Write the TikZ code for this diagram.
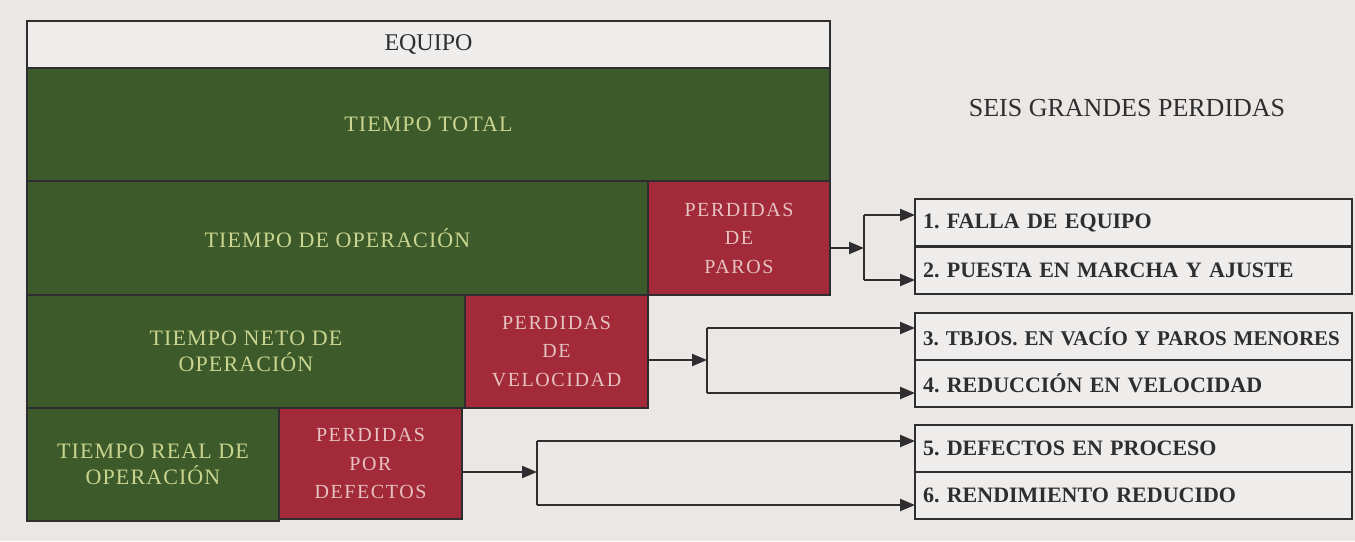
\documentclass[tikz,border=0pt]{standalone}
\usepackage{fontspec}
\setmainfont{Liberation Serif}
\newfontfamily\spaced[LetterSpace=5]{Liberation Serif}
\newfontfamily\spacedr[LetterSpace=8]{Liberation Serif}
\usetikzlibrary{arrows.meta}
\definecolor{bg}{HTML}{EAE7E5}
\definecolor{boxfill}{HTML}{EFEDEB}
\definecolor{grn}{HTML}{3D5A2B}
\definecolor{grntext}{HTML}{C9D58E}
\definecolor{rd}{HTML}{A32A38}
\definecolor{rdtext}{HTML}{E6C2C2}
\definecolor{ln}{HTML}{2E2E30}
\frenchspacing
\begin{document}
\begin{tikzpicture}[x=1pt,y=-1pt,
  frame/.style={draw=ln,line width=2.6pt,anchor=north west,inner sep=0pt,outer sep=0pt},
  greenbox/.style={frame,fill=grn,text=grntext,align=center,font=\spaced\fontsize{22}{26}\selectfont},
  redbox/.style={frame,fill=rd,text=rdtext,align=center,font=\spacedr\fontsize{20}{28.5}\selectfont},
  lossbox/.style={frame,fill=boxfill,text=ln,minimum width=437pt,minimum height=47pt,text width=421pt,align=left,inner xsep=8pt,font=\bfseries\fontsize{22}{24}\selectfont},
  arr/.style={draw=ln,line width=2.2pt,-{Triangle[length=15pt,width=12pt]}},
  ln2/.style={draw=ln,line width=2.2pt}]
\fill[bg] (0,0) rectangle (1355,541);
\useasboundingbox (0,0) rectangle (1355,541);

% left block
\node[frame,fill=boxfill,minimum width=803pt,minimum height=47pt,font=\fontsize{24}{26}\selectfont,text=ln] (eq) at (27,21) {EQUIPO};
\node[greenbox,minimum width=803pt,minimum height=113pt] (tt) at (27,68) {TIEMPO TOTAL};
\node[greenbox,minimum width=621pt,minimum height=114pt] (to) at (27,181) {TIEMPO DE OPERACIÓN};
\node[redbox,minimum width=182pt,minimum height=114pt] (pp) at (648,181) {PERDIDAS\\DE\\PAROS};
\node[greenbox,minimum width=438pt,minimum height=113pt] (tn) at (27,295) {TIEMPO NETO DE\\OPERACIÓN};
\node[redbox,minimum width=183pt,minimum height=113pt] (pv) at (465,295) {PERDIDAS\\DE\\VELOCIDAD};
\node[greenbox,minimum width=252pt,minimum height=113pt] (tr) at (27,408) {TIEMPO REAL DE\\OPERACIÓN};
\node[redbox,minimum width=183pt,minimum height=111pt] (pd) at (279,408) {PERDIDAS\\POR\\DEFECTOS};

% title
\node[font=\fontsize{26}{28}\selectfont,text=ln] (sg) at (1127,108) {SEIS GRANDES PERDIDAS};

% loss boxes
\node[lossbox] (l1) at (915,199) {1. FALLA DE EQUIPO};
\node[lossbox] (l2) at (915,247) {2. PUESTA EN MARCHA Y AJUSTE};
\node[lossbox,font=\bfseries\fontsize{21}{24}\selectfont] (l3) at (915,313) {3. TBJOS. EN VACÍO Y PAROS MENORES};
\node[lossbox] (l4) at (915,360) {4. REDUCCIÓN EN VELOCIDAD};
\node[lossbox] (l5) at (915,425) {5. DEFECTOS EN PROCESO};
\node[lossbox] (l6) at (915,472) {6. RENDIMIENTO REDUCIDO};

% connectors: paros
\coordinate (j1) at (864,248);
\coordinate (j1t) at (864,215);
\coordinate (j1b) at (864,280);
\draw[arr] (pp.east |- j1) -- (j1);
\draw[ln2] (j1t) -- (j1b);
\draw[arr] (j1t) -- (j1t -| l1.west);
\draw[arr] (j1b) -- (j1b -| l2.west);

% velocidad
\coordinate (j2) at (707,360);
\coordinate (j2t) at (707,328);
\coordinate (j2b) at (707,393);
\draw[arr] (pv.east |- j2) -- (j2);
\draw[ln2] (j2t) -- (j2b);
\draw[arr] (j2t) -- (j2t -| l3.west);
\draw[arr] (j2b) -- (j2b -| l4.west);

% defectos
\coordinate (j3) at (537,472);
\coordinate (j3t) at (537,441);
\coordinate (j3b) at (537,505);
\draw[arr] (pd.east |- j3) -- (j3);
\draw[ln2] (j3t) -- (j3b);
\draw[arr] (j3t) -- (j3t -| l5.west);
\draw[arr] (j3b) -- (j3b -| l6.west);
\end{tikzpicture}
\end{document}
